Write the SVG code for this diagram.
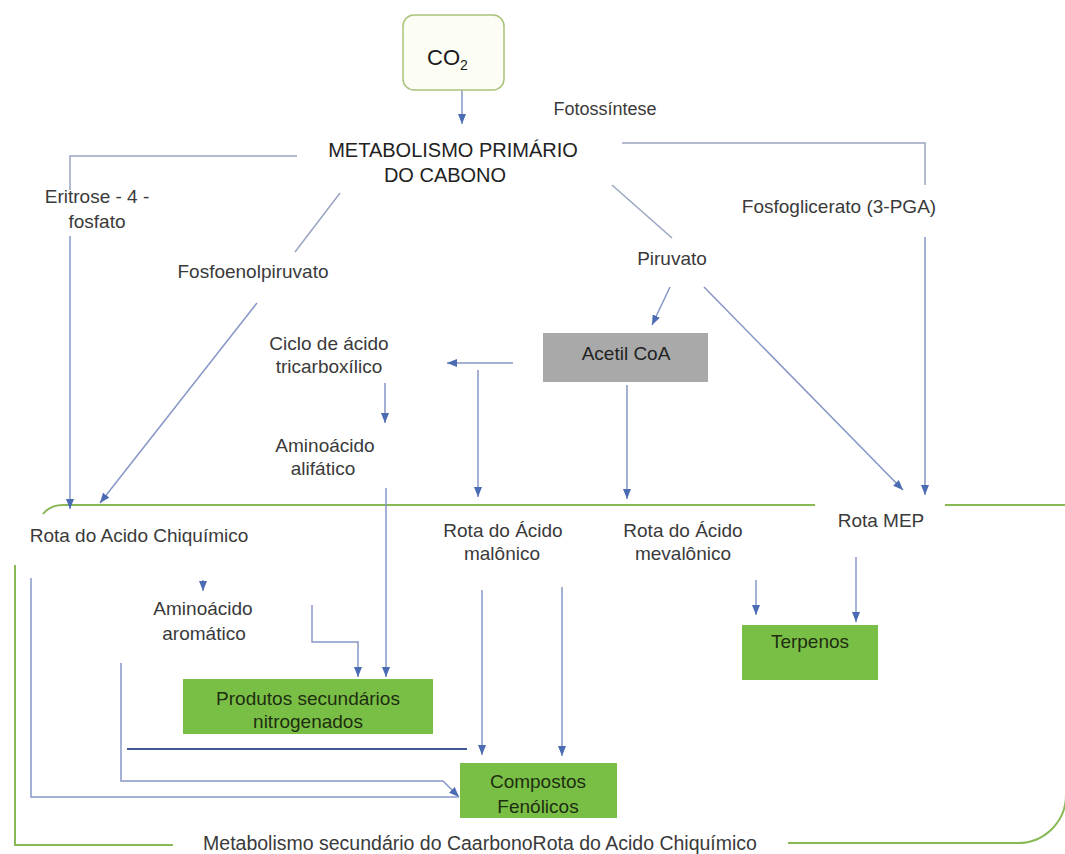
<svg xmlns="http://www.w3.org/2000/svg" width="1065" height="854" viewBox="0 0 1065 854">
<defs>
<style>
text{font-family:"Liberation Sans",Arial,sans-serif;fill:#3a3a3a;font-size:19px}
.c{text-anchor:middle}
.big{font-size:20px;fill:#222}
.bx{fill:#1e2e12;font-size:19px}
.ln{fill:none;stroke:#8696c6;stroke-width:1.5}
.tp{fill:none;stroke:#9aa5c2;stroke-width:1.5}
.dk{fill:none;stroke:#3d5894;stroke-width:2}
.gr{fill:none;stroke:#88b955;stroke-width:2}
.gbox{fill:#7abf45}
</style>
<marker id="ah" viewBox="0 0 10 8" refX="10" refY="4" markerWidth="10" markerHeight="8" markerUnits="userSpaceOnUse" orient="auto">
<path d="M0,0 L10,4 L0,8 z" fill="#4b6bb2"/>
</marker>
</defs>
<rect width="1065" height="854" fill="#ffffff"/>

<g id="container">
<path class="gr" d="M43,514 Q50,505 63,505 H815"/>
<path class="gr" d="M945,505 H1065"/>
<path class="gr" d="M15,565 V845 H173" stroke="#a3c478"/>
<path class="gr" d="M788,843 H1018 A48,48 0 0 0 1066,795"/>
</g>

<g id="connectors">
<path class="ln" d="M462,90 V124" marker-end="url(#ah)"/>
<path class="tp" d="M297,156 H70 V190"/>
<path class="ln" d="M70,236 V509" marker-end="url(#ah)"/>
<path class="tp" d="M622,143 H925 V185"/>
<path class="ln" d="M925,237 V495" marker-end="url(#ah)"/>
<path class="tp" d="M340,193 L295,252"/>
<path class="ln" d="M257,303 L100,503" marker-end="url(#ah)"/>
<path class="tp" d="M612,185 L672,238"/>
<path class="ln" d="M670,287 L652,325" marker-end="url(#ah)"/>
<path class="ln" d="M704,287 L903,490" marker-end="url(#ah)"/>
<path class="ln" d="M513,363 H447" marker-end="url(#ah)"/>
<path class="ln" d="M478,370 V497" marker-end="url(#ah)"/>
<path class="ln" d="M627,385 V499" marker-end="url(#ah)"/>
<path class="ln" d="M385,383 V423" marker-end="url(#ah)"/>
<path class="ln" d="M386,488 V677" marker-end="url(#ah)"/>
<path class="ln" d="M203,580 V591" marker-end="url(#ah)"/>
<path class="ln" d="M312,605 V642 H358 V677" marker-end="url(#ah)"/>
<path class="ln" d="M482,590 V755" marker-end="url(#ah)"/>
<path class="ln" d="M562,587 V756" marker-end="url(#ah)"/>
<path class="dk" d="M127,749 H467"/>
<path class="ln" d="M121,663 V781 H443 L459,797" marker-end="url(#ah)"/>
<path class="ln" d="M31,578 V797 H459"/>
<path class="ln" d="M756,580 V615" marker-end="url(#ah)"/>
<path class="ln" d="M856,557 V622" marker-end="url(#ah)"/>
</g>

<g id="co2">
<rect x="403" y="15" width="101" height="75" rx="11" fill="#fcfdf4" stroke="#a9c27a" stroke-width="1.5"/>
<text x="427" y="65" style="font-size:22px;fill:#1a1a1a">CO<tspan dy="5" style="font-size:14px">2</tspan></text>
</g>

<g id="fotossintese"><text class="c" x="605" y="115" style="font-size:18px">Fotossíntese</text></g>

<g id="metabolismo-primario">
<text class="c big" x="453" y="157">METABOLISMO PRIMÁRIO</text>
<text class="c big" x="445" y="182">DO CABONO</text>
</g>

<g id="eritrose">
<text class="c" x="97" y="203">Eritrose - 4 -</text>
<text class="c" x="97" y="228">fosfato</text>
</g>

<g id="fosfoenolpiruvato"><text class="c" x="253" y="278">Fosfoenolpiruvato</text></g>
<g id="piruvato"><text class="c" x="672" y="265">Piruvato</text></g>
<g id="fosfoglicerato"><text class="c" x="839" y="213">Fosfoglicerato (3-PGA)</text></g>

<g id="acetil-coa">
<rect x="543" y="333" width="165" height="49" fill="#a9a9a9"/>
<text class="c" x="626" y="360" style="fill:#222">Acetil CoA</text>
</g>

<g id="ciclo">
<text class="c" x="329" y="350">Ciclo de ácido</text>
<text class="c" x="329" y="373">tricarboxílico</text>
</g>

<g id="aminoacido-alifatico">
<text class="c" x="325" y="452">Aminoácido</text>
<text class="c" x="323" y="475">alifático</text>
</g>

<g id="rota-chiquimico"><text class="c" x="139" y="542">Rota do Acido Chiquímico</text></g>

<g id="rota-malonico">
<text class="c" x="503" y="537">Rota do Ácido</text>
<text class="c" x="502" y="560">malônico</text>
</g>

<g id="rota-mevalonico">
<text class="c" x="683" y="537">Rota do Ácido</text>
<text class="c" x="683" y="560">mevalônico</text>
</g>

<g id="rota-mep"><text class="c" x="881" y="527">Rota MEP</text></g>

<g id="aminoacido-aromatico">
<text class="c" x="203" y="615">Aminoácido</text>
<text class="c" x="204" y="640">aromático</text>
</g>

<g id="produtos">
<rect class="gbox" x="183" y="679" width="250" height="55"/>
<text class="c bx" x="308" y="705">Produtos secundários</text>
<text class="c bx" x="308" y="728">nitrogenados</text>
</g>

<g id="terpenos">
<rect class="gbox" x="742" y="625" width="136" height="55"/>
<text class="c bx" x="810" y="648">Terpenos</text>
</g>

<g id="compostos">
<rect class="gbox" x="460" y="763" width="157" height="55"/>
<text class="c bx" x="538" y="788">Compostos</text>
<text class="c bx" x="538" y="813">Fenólicos</text>
</g>

<g id="metabolismo-secundario"><text class="c" x="480" y="850" style="font-size:19.5px">Metabolismo secundário do CaarbonoRota do Acido Chiquímico</text></g>
</svg>
